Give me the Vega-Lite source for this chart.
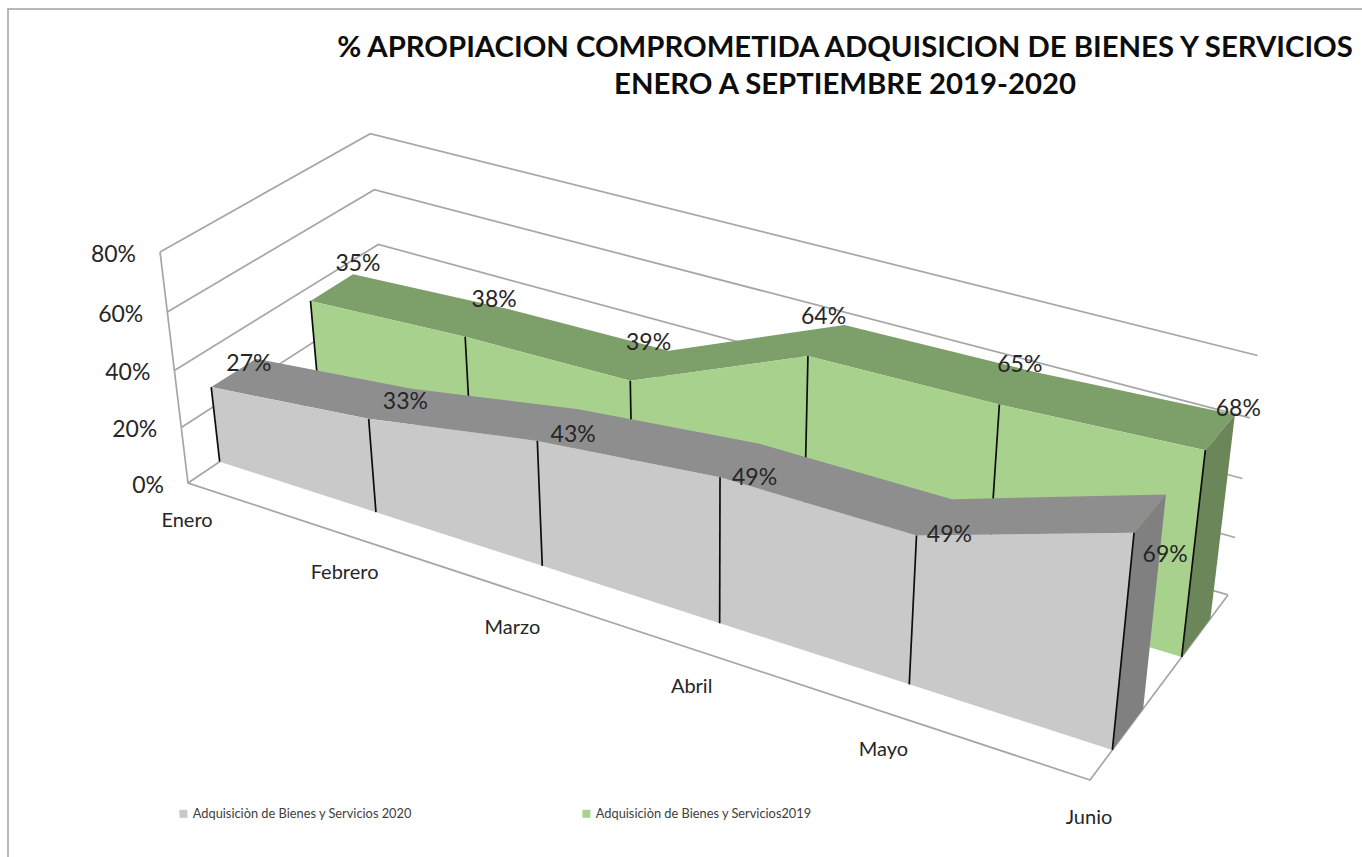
{
"$schema":"https://vega.github.io/schema/vega-lite/v6.json",
"width":1362,"height":857,"autosize":{"type":"none"},
"padding":{"left":8,"top":9,"right":0,"bottom":0},
"background":"#ffffff",
"view":{"stroke":"#a0a0a0","strokeWidth":1.5,"fill":"#ffffff"},
"title":{"text":["% APROPIACION COMPROMETIDA ADQUISICION DE BIENES Y SERVICIOS","ENERO A SEPTIEMBRE 2019-2020"],"anchor":"middle","frame":"group","dx":156,"offset":-91,"font":"Lato","fontSize":29.3,"fontWeight":"bold","color":"#0d0d0d","lineHeight":37},
"datasets":{
"grid":[{"valor":0},{"valor":20},{"valor":40},{"valor":60},{"valor":80}]
},
"data":{"values":[
{"mes":"Enero","i":0,"anio":2019,"serie":"Adquisiciòn de Bienes y Servicios2019","valor":35},
{"mes":"Febrero","i":1,"anio":2019,"serie":"Adquisiciòn de Bienes y Servicios2019","valor":38},
{"mes":"Marzo","i":2,"anio":2019,"serie":"Adquisiciòn de Bienes y Servicios2019","valor":39},
{"mes":"Abril","i":3,"anio":2019,"serie":"Adquisiciòn de Bienes y Servicios2019","valor":64},
{"mes":"Mayo","i":4,"anio":2019,"serie":"Adquisiciòn de Bienes y Servicios2019","valor":65},
{"mes":"Junio","i":5,"anio":2019,"serie":"Adquisiciòn de Bienes y Servicios2019","valor":68},
{"mes":"Enero","i":0,"anio":2020,"serie":"Adquisiciòn de Bienes y Servicios 2020","valor":27},
{"mes":"Febrero","i":1,"anio":2020,"serie":"Adquisiciòn de Bienes y Servicios 2020","valor":33},
{"mes":"Marzo","i":2,"anio":2020,"serie":"Adquisiciòn de Bienes y Servicios 2020","valor":43},
{"mes":"Abril","i":3,"anio":2020,"serie":"Adquisiciòn de Bienes y Servicios 2020","valor":49},
{"mes":"Mayo","i":4,"anio":2020,"serie":"Adquisiciòn de Bienes y Servicios 2020","valor":49},
{"mes":"Junio","i":5,"anio":2020,"serie":"Adquisiciòn de Bienes y Servicios 2020","valor":69}
]},
"transform":[
{"calculate":"datum.i/5","as":"u"},
{"calculate":"datum.valor/80","as":"zt"},
{"calculate":"datum.anio==2020?0.148:0.64","as":"df"},
{"calculate":"datum.anio==2020?0.36:0.86","as":"db"}
],
"encoding":{
"x":{"field":"px","type":"quantitative","scale":{"domain":[8,1370]},"axis":null},
"y":{"field":"py","type":"quantitative","scale":{"domain":[866,9]},"axis":null}
},
"layer":[
{"data":{"name":"grid"},
"transform":[
{"calculate":"[{u:0,d:0,o:0},{u:0,d:1,o:1},{u:1,d:1,o:2}]","as":"v"},{"flatten":["v"]},
{"calculate":"1-0.1534*datum.v.u+0.0964*datum.v.d-0.0509*datum.valor/80","as":"w"},
{"calculate":"(188+734.8*datum.v.u+235.2*datum.v.d-36.1*datum.valor/80)/datum.w","as":"px"},
{"calculate":"(483+177.3*datum.v.u-99.3*datum.v.d-243.9*datum.valor/80)/datum.w","as":"py"},
{"calculate":"datum.v.o","as":"ord"}],
"mark":{"type":"line","stroke":"#a6a6a6","strokeWidth":1.7},
"encoding":{"detail":{"field":"valor"},"order":{"field":"ord","type":"quantitative"}}},
{"data":{"name":"grid"},
"transform":[{"filter":"datum.valor==0"},
{"calculate":"[{u:0,d:0,z:1,o:0},{u:0,d:0,z:0,o:1},{u:1,d:0,z:0,o:2},{u:1,d:1,z:0,o:3}]","as":"v"},{"flatten":["v"]},
{"calculate":"1-0.1534*datum.v.u+0.0964*datum.v.d-0.0509*datum.v.z","as":"w"},
{"calculate":"(188+734.8*datum.v.u+235.2*datum.v.d-36.1*datum.v.z)/datum.w","as":"px"},
{"calculate":"(483+177.3*datum.v.u-99.3*datum.v.d-243.9*datum.v.z)/datum.w","as":"py"},
{"calculate":"datum.v.o","as":"ord"}],
"mark":{"type":"line","stroke":"#a6a6a6","strokeWidth":1.7},
"encoding":{"order":{"field":"ord","type":"quantitative"}}},
{"data":{"name":"grid"},
"transform":[
{"calculate":"datum.valor/100","as":"pct"},
{"calculate":"1-0.0509*datum.valor/80","as":"w"},
{"calculate":"(188-36.1*datum.valor/80)/datum.w","as":"px"},
{"calculate":"(483-243.9*datum.valor/80)/datum.w","as":"py"}],
"mark":{"type":"text","align":"right","baseline":"middle","dx":-24,"dy":3,"font":"Lato","fontSize":23,"color":"#262626"},
"encoding":{"text":{"field":"pct","type":"quantitative","format":".0%"}}},

{"transform":[{"filter":"datum.anio==2019"},
{"calculate":"[{d:datum.df,o:datum.i},{d:datum.db,o:11-datum.i}]","as":"v"},{"flatten":["v"]},
{"calculate":"1-0.1534*datum.u+0.0964*datum.v.d-0.0509*datum.zt","as":"w"},
{"calculate":"(188+734.8*datum.u+235.2*datum.v.d-36.1*datum.zt)/datum.w","as":"px"},
{"calculate":"(483+177.3*datum.u-99.3*datum.v.d-243.9*datum.zt)/datum.w","as":"py"},
{"calculate":"datum.v.o","as":"ord"}],
"mark":{"type":"line","fill":"#7d9f69","stroke":null,"strokeWidth":0},
"encoding":{"order":{"field":"ord","type":"quantitative"}}},
{"transform":[{"filter":"datum.anio==2019&&datum.i==5"},
{"calculate":"[{d:datum.df,z:datum.zt,o:0},{d:datum.db,z:datum.zt,o:1},{d:datum.db,z:0,o:2},{d:datum.df,z:0,o:3}]","as":"v"},{"flatten":["v"]},
{"calculate":"1-0.1534*datum.u+0.0964*datum.v.d-0.0509*datum.v.z","as":"w"},
{"calculate":"(188+734.8*datum.u+235.2*datum.v.d-36.1*datum.v.z)/datum.w","as":"px"},
{"calculate":"(483+177.3*datum.u-99.3*datum.v.d-243.9*datum.v.z)/datum.w","as":"py"},
{"calculate":"datum.v.o","as":"ord"}],
"mark":{"type":"line","fill":"#6b8658","stroke":null,"strokeWidth":0},
"encoding":{"order":{"field":"ord","type":"quantitative"}}},
{"transform":[{"filter":"datum.anio==2019"},
{"calculate":"[{z:datum.zt,o:datum.i},{z:0,o:11-datum.i}]","as":"v"},{"flatten":["v"]},
{"calculate":"1-0.1534*datum.u+0.0964*datum.df-0.0509*datum.v.z","as":"w"},
{"calculate":"(188+734.8*datum.u+235.2*datum.df-36.1*datum.v.z)/datum.w","as":"px"},
{"calculate":"(483+177.3*datum.u-99.3*datum.df-243.9*datum.v.z)/datum.w","as":"py"},
{"calculate":"datum.v.o","as":"ord"}],
"mark":{"type":"line","filled":true,"strokeWidth":0},
"encoding":{"order":{"field":"ord","type":"quantitative"},
"color":{"field":"serie","type":"nominal","title":null,
"scale":{"domain":["Adquisiciòn de Bienes y Servicios 2020","Adquisiciòn de Bienes y Servicios2019"],"range":["#c9c9c9","#a9d18e"]},
"legend":{"orient":"none","legendX":169,"legendY":798,"direction":"horizontal","columns":2,"columnPadding":167,"symbolType":"square","symbolSize":64,"labelOffset":3,"labelFont":"Lato","labelFontSize":12.8,"labelColor":"#404040","labelLimit":300,"padding":0}}}},
{"transform":[{"filter":"datum.anio==2019"},
{"calculate":"1-0.1534*datum.u+0.0964*datum.df-0.0509*datum.zt","as":"w"},
{"calculate":"(188+734.8*datum.u+235.2*datum.df-36.1*datum.zt)/datum.w","as":"px"},
{"calculate":"(483+177.3*datum.u-99.3*datum.df-243.9*datum.zt)/datum.w","as":"py"},
{"calculate":"1-0.1534*datum.u+0.0964*datum.df","as":"wb"},
{"calculate":"(188+734.8*datum.u+235.2*datum.df)/datum.wb","as":"pxb"},
{"calculate":"(483+177.3*datum.u-99.3*datum.df)/datum.wb","as":"pyb"}],
"mark":{"type":"rule","color":"#0d0d0d","strokeWidth":1.7},
"encoding":{"x2":{"field":"pxb"},"y2":{"field":"pyb"}}},

{"transform":[{"filter":"datum.anio==2020"},
{"calculate":"[{d:datum.df,o:datum.i},{d:datum.db,o:11-datum.i}]","as":"v"},{"flatten":["v"]},
{"calculate":"1-0.1534*datum.u+0.0964*datum.v.d-0.0509*datum.zt","as":"w"},
{"calculate":"(188+734.8*datum.u+235.2*datum.v.d-36.1*datum.zt)/datum.w","as":"px"},
{"calculate":"(483+177.3*datum.u-99.3*datum.v.d-243.9*datum.zt)/datum.w","as":"py"},
{"calculate":"datum.v.o","as":"ord"}],
"mark":{"type":"line","fill":"#8e8e8e","stroke":null,"strokeWidth":0},
"encoding":{"order":{"field":"ord","type":"quantitative"}}},
{"transform":[{"filter":"datum.anio==2020&&datum.i==5"},
{"calculate":"[{d:datum.df,z:datum.zt,o:0},{d:datum.db,z:datum.zt,o:1},{d:datum.db,z:0,o:2},{d:datum.df,z:0,o:3}]","as":"v"},{"flatten":["v"]},
{"calculate":"1-0.1534*datum.u+0.0964*datum.v.d-0.0509*datum.v.z","as":"w"},
{"calculate":"(188+734.8*datum.u+235.2*datum.v.d-36.1*datum.v.z)/datum.w","as":"px"},
{"calculate":"(483+177.3*datum.u-99.3*datum.v.d-243.9*datum.v.z)/datum.w","as":"py"},
{"calculate":"datum.v.o","as":"ord"}],
"mark":{"type":"line","fill":"#808080","stroke":null,"strokeWidth":0},
"encoding":{"order":{"field":"ord","type":"quantitative"}}},
{"transform":[{"filter":"datum.anio==2020"},
{"calculate":"[{z:datum.zt,o:datum.i},{z:0,o:11-datum.i}]","as":"v"},{"flatten":["v"]},
{"calculate":"1-0.1534*datum.u+0.0964*datum.df-0.0509*datum.v.z","as":"w"},
{"calculate":"(188+734.8*datum.u+235.2*datum.df-36.1*datum.v.z)/datum.w","as":"px"},
{"calculate":"(483+177.3*datum.u-99.3*datum.df-243.9*datum.v.z)/datum.w","as":"py"},
{"calculate":"datum.v.o","as":"ord"}],
"mark":{"type":"line","filled":true,"strokeWidth":0},
"encoding":{"order":{"field":"ord","type":"quantitative"},
"color":{"field":"serie","type":"nominal","title":null}}},
{"transform":[{"filter":"datum.anio==2020"},
{"calculate":"1-0.1534*datum.u+0.0964*datum.df-0.0509*datum.zt","as":"w"},
{"calculate":"(188+734.8*datum.u+235.2*datum.df-36.1*datum.zt)/datum.w","as":"px"},
{"calculate":"(483+177.3*datum.u-99.3*datum.df-243.9*datum.zt)/datum.w","as":"py"},
{"calculate":"1-0.1534*datum.u+0.0964*datum.df","as":"wb"},
{"calculate":"(188+734.8*datum.u+235.2*datum.df)/datum.wb","as":"pxb"},
{"calculate":"(483+177.3*datum.u-99.3*datum.df)/datum.wb","as":"pyb"}],
"mark":{"type":"rule","color":"#0d0d0d","strokeWidth":1.7},
"encoding":{"x2":{"field":"pxb"},"y2":{"field":"pyb"}}},

{"transform":[{"filter":"datum.anio==2020"},
{"calculate":"1-0.1534*datum.u","as":"w"},
{"calculate":"(188+734.8*datum.u)/datum.w","as":"px"},
{"calculate":"(483+177.3*datum.u)/datum.w","as":"py"}],
"mark":{"type":"text","align":"center","baseline":"middle","dx":-1,"dy":38,"font":"Lato","fontSize":20,"color":"#262626"},
"encoding":{"text":{"field":"mes"}}},

{"transform":[
{"calculate":"(datum.df+datum.db)/2","as":"dm"},
{"calculate":"datum.valor/100","as":"pct"},
{"calculate":"1-0.1534*datum.u+0.0964*datum.dm-0.0509*datum.zt","as":"w"},
{"calculate":"(188+734.8*datum.u+235.2*datum.dm-36.1*datum.zt)/datum.w+(datum.anio==2020?15:100*(datum.u-0.5)*(datum.u-0.5)-8*(datum.u-0.5)-3)","as":"px"},
{"calculate":"(483+177.3*datum.u-99.3*datum.dm-243.9*datum.zt)/datum.w+(datum.anio==2020?1.2*datum.valor-41:-23)","as":"py"}],
"mark":{"type":"text","align":"center","baseline":"middle","font":"Lato","fontSize":23,"color":"#262626"},
"encoding":{"text":{"field":"pct","type":"quantitative","format":".0%"}}}
]
}
